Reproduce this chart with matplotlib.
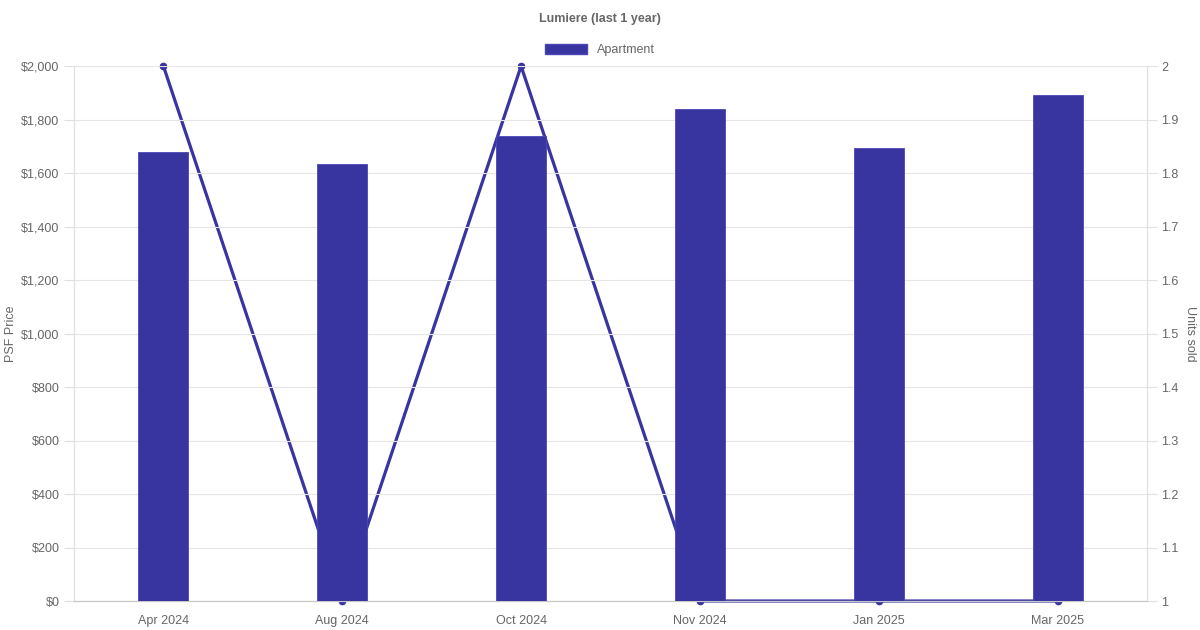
import matplotlib
matplotlib.use("Agg")
import matplotlib.pyplot as plt
from matplotlib.patches import Patch
from matplotlib.ticker import FuncFormatter

plt.rcParams['font.family'] = ['Liberation Sans', 'DejaVu Sans']

# datos
meses = ["Apr 2024", "Aug 2024", "Oct 2024", "Nov 2024", "Jan 2025", "Mar 2025"]
psf = [1678, 1634, 1738, 1839, 1693, 1891]
unidades = [2, 1, 2, 1, 1, 1]

color = "#3834a0"
gris = "#666666"
fs = 9

fig = plt.figure(figsize=(12, 6.3), dpi=100)
ax = fig.add_axes([0.0617, 0.046, 0.8941, 0.849])
ax2 = ax.twinx()

x = range(len(meses))
ax.bar(x, psf, width=0.28, color=color, edgecolor="#4a46b8", linewidth=0.6, zorder=3)
ax.set_xlim(-0.5, len(meses) - 0.5)
ax.set_ylim(0, 2000)
ax.set_yticks(range(0, 2001, 200))
ax.yaxis.set_major_formatter(FuncFormatter(lambda v, p: "${:,.0f}".format(v)))
ax.set_xticks(list(x))
ax.set_xticklabels(meses)
ax.grid(axis='y', color="#e5e5e5", linewidth=0.8, zorder=0)
ax.set_ylabel("PSF Price", color=gris, fontsize=fs, labelpad=3)

ax2.plot(x, unidades, color=color, linewidth=2.3, marker='o', markersize=4.5,
         zorder=2, clip_on=False)
ax2.set_ylim(1, 2)
ax2.set_yticks([1 + i / 10 for i in range(11)])
ax2.yaxis.set_major_formatter(FuncFormatter(lambda v, p: "{:g}".format(round(v, 1))))
ax2.set_ylabel("Units sold", color=gris, fontsize=fs, rotation=270, labelpad=12)

# linea detras de las barras
ax.set_zorder(ax2.get_zorder() + 1)
ax.patch.set_visible(False)

for a in (ax, ax2):
    for s in a.spines.values():
        s.set_color("#e0e0e0")
    a.spines['top'].set_visible(False)
    a.spines['bottom'].set_color("#c8c8c8")
    a.tick_params(colors="#e0e0e0", labelcolor=gris, labelsize=fs, length=7)
ax.tick_params(axis='x', length=0, pad=10)

fig.suptitle("Lumiere (last 1 year)", y=0.98, fontsize=fs, fontweight='bold', color=gris)
fig.legend(handles=[Patch(facecolor=color, edgecolor="#4a46b8")], labels=["Apartment"],
           loc='center', bbox_to_anchor=(0.5, 0.921), frameon=False, fontsize=fs,
           labelcolor=gris, handlelength=3.3, handleheight=0.9)

fig.savefig("out.png", dpi=100)
